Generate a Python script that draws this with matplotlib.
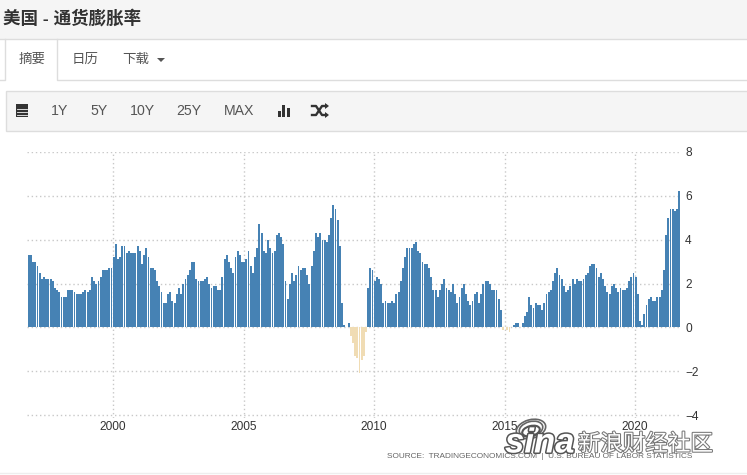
import matplotlib
matplotlib.use("Agg")
import matplotlib.pyplot as plt
import matplotlib.patheffects as pe
from matplotlib.patches import Rectangle, Ellipse

plt.rcParams['font.family'] = ['Liberation Sans', 'Noto Sans CJK SC', 'DejaVu Sans']

# monthly values, Nov 1996 to Oct 2021
start_year = 1996
start_month = 11
y1996 = [3.3, 3.3]
y1997 = [3.0, 3.0, 2.8, 2.5, 2.2, 2.3, 2.2, 2.2, 2.2, 2.1, 1.8, 1.7]
y1998 = [1.6, 1.4, 1.4, 1.4, 1.7, 1.7, 1.7, 1.6, 1.5, 1.5, 1.5, 1.6]
y1999 = [1.7, 1.6, 1.7, 2.3, 2.1, 2.0, 2.1, 2.3, 2.6, 2.6, 2.6, 2.7]
y2000 = [2.7, 3.2, 3.8, 3.1, 3.2, 3.7, 3.7, 3.4, 3.5, 3.4, 3.4, 3.4]
y2001 = [3.7, 3.5, 2.9, 3.3, 3.6, 3.2, 2.7, 2.7, 2.6, 2.1, 1.9, 1.6]
y2002 = [1.1, 1.1, 1.5, 1.6, 1.2, 1.1, 1.5, 1.8, 1.5, 2.0, 2.2, 2.4]
y2003 = [2.6, 3.0, 3.0, 2.2, 2.1, 2.1, 2.1, 2.2, 2.3, 2.0, 1.8, 1.9]
y2004 = [1.9, 1.7, 1.7, 2.3, 3.1, 3.3, 3.0, 2.7, 2.5, 3.2, 3.5, 3.3]
y2005 = [3.0, 3.0, 3.1, 3.5, 2.8, 2.5, 3.2, 3.6, 4.7, 4.3, 3.5, 3.4]
y2006 = [4.0, 3.6, 3.4, 3.5, 4.2, 4.3, 4.1, 3.8, 2.1, 1.3, 2.0, 2.5]
y2007 = [2.1, 2.4, 2.8, 2.6, 2.7, 2.7, 2.4, 2.0, 2.8, 3.5, 4.3, 4.1]
y2008 = [4.3, 4.0, 4.0, 3.9, 4.2, 5.0, 5.6, 5.4, 4.9, 3.7, 1.1, 0.1]
y2009 = [0.0, 0.2, -0.4, -0.7, -1.3, -1.4, -2.1, -1.5, -1.3, -0.2, 1.8, 2.7]
y2010 = [2.6, 2.1, 2.3, 2.2, 2.0, 1.1, 1.2, 1.1, 1.1, 1.2, 1.1, 1.5]
y2011 = [1.6, 2.1, 2.7, 3.2, 3.6, 3.6, 3.6, 3.8, 3.9, 3.5, 3.4, 3.0]
y2012 = [2.9, 2.9, 2.7, 2.3, 1.7, 1.7, 1.4, 1.7, 2.0, 2.2, 1.8, 1.7]
y2013 = [1.6, 2.0, 1.5, 1.1, 1.4, 1.8, 2.0, 1.5, 1.2, 1.0, 1.2, 1.5]
y2014 = [1.6, 1.1, 1.5, 2.0, 2.1, 2.1, 2.0, 1.7, 1.7, 1.7, 1.3, 0.8]
y2015 = [-0.1, 0.0, -0.1, -0.2, 0.0, 0.1, 0.2, 0.2, 0.0, 0.2, 0.5, 0.7]
y2016 = [1.4, 1.0, 0.9, 1.1, 1.0, 1.0, 0.8, 1.1, 1.5, 1.6, 1.7, 2.1]
y2017 = [2.5, 2.7, 2.4, 2.2, 1.9, 1.6, 1.7, 1.9, 2.2, 2.0, 2.2, 2.1]
y2018 = [2.1, 2.2, 2.4, 2.5, 2.8, 2.9, 2.9, 2.7, 2.3, 2.5, 2.2, 1.9]
y2019 = [1.6, 1.5, 1.9, 2.0, 1.8, 1.6, 1.8, 1.7, 1.7, 1.8, 2.1, 2.3]
y2020 = [2.5, 2.3, 1.5, 0.3, 0.1, 0.6, 1.0, 1.3, 1.4, 1.2, 1.2, 1.4]
y2021 = [1.4, 1.7, 2.6, 4.2, 5.0, 5.4, 5.4, 5.3, 5.4, 6.2]
values = (y1996 + y1997 + y1998 + y1999 + y2000 + y2001 + y2002 + y2003 + y2004
          + y2005 + y2006 + y2007 + y2008 + y2009 + y2010 + y2011 + y2012 + y2013
          + y2014 + y2015 + y2016 + y2017 + y2018 + y2019 + y2020 + y2021)

year_ticks = [2000, 2005, 2010, 2015, 2020]
value_ticks = [-4, -2, 0, 2, 4, 6, 8]
toolbar_labels = ["1Y", "5Y", "10Y", "25Y", "MAX"]
toolbar_x = [60, 99, 142, 189, 239]

W, H = 747, 475
fig = plt.figure(figsize=(W / 100, H / 100), dpi=100, facecolor="white")

# page furniture, drawn in pixel coordinates
bg = fig.add_axes([0, 0, 1, 1])
bg.set_xlim(0, W)
bg.set_ylim(H, 0)
bg.axis("off")
bg.add_patch(Rectangle((0, 0), W, 38.5, fc="#f5f5f5", ec="none"))
bg.plot([0, W], [38.5, 38.5], color="#dddddd", lw=1)
bg.text(3, 18, "美国 - 通货膨胀率", fontsize=12.6, fontweight="bold", color="#333333", va="center")

bg.plot([0, 4.5, 4.5], [79.5, 79.5, 39], color="#dddddd", lw=1)
bg.plot([56.5, 56.5, W], [39, 79.5, 79.5], color="#dddddd", lw=1)
bg.text(32, 60, "摘要", fontsize=9.7, color="#555555", ha="center", va="center")
bg.text(85, 60, "日历", fontsize=9.7, color="#555555", ha="center", va="center")
bg.text(136, 60, "下载", fontsize=9.7, color="#555555", ha="center", va="center")
bg.fill([157, 165, 161], [58, 58, 62], color="#555555", lw=0)

bg.add_patch(Rectangle((5.5, 90.5), W, 40.5, fc="#f5f5f5", ec="#dddddd", lw=1))
for name, px in zip(toolbar_labels, toolbar_x):
    bg.text(px, 111, name, fontsize=10.2, color="#555555", ha="center", va="center")

# calendar icon
bg.add_patch(Rectangle((16, 104), 12, 13, fc="#333333", ec="none"))
for gy in [108.5, 111.5, 114.5]:
    bg.plot([17, 27], [gy, gy], color="#f5f5f5", lw=0.6)
# bar icon
for bx, by in [(278, 111), (282, 105), (287, 108)]:
    bg.add_patch(Rectangle((bx, by), 3, 117 - by, fc="#333333", ec="none"))
# shuffle icon
bg.plot([312, 316, 322, 326], [106, 106, 115, 115], color="#333333", lw=1.7)
bg.plot([312, 316, 322, 326], [115, 115, 106, 106], color="#333333", lw=1.7)
bg.fill([325, 329, 325], [103, 106, 109], color="#333333", lw=0)
bg.fill([325, 329, 325], [112, 115, 118], color="#333333", lw=0)

bg.plot([0, W], [472.5, 472.5], color="#eeeeee", lw=1)

# chart axes: 0 sits at y=327, 22 px per unit, 26.1 px per year
left, right, top, bottom = 27, 681, 152, 418
ax = fig.add_axes([left / W, 1 - bottom / H, (right - left) / W, (bottom - top) / H])
ax.patch.set_alpha(0)
ax.set_xlim(2000 + (left - 113) / 26.1, 2000 + (right - 113) / 26.1)
ax.set_ylim(-(bottom - 327) / 22, 8)

# bars sit about 1.5 px left of the tick for their month
bar_shift = 1.5 / 26.1
xs = [start_year + (start_month - 1 + i) / 12 - bar_shift for i in range(len(values))]
colors = ["#4682b4" if v >= 0 else "#f0dcb4" for v in values]
ax.bar(xs, values, width=0.072, color=colors, linewidth=0, zorder=3, antialiased=False)

ax.set_xticks(year_ticks)
ax.set_yticks(value_ticks)
ax.yaxis.tick_right()
ax.grid(True, color="#c8c8c8", linestyle=(0, (1, 2)), linewidth=1, zorder=1)
ax.tick_params(length=0, labelsize=8.6, labelcolor="#333333", pad=3)
ax.tick_params(axis="x", pad=2)
for s in ax.spines.values():
    s.set_visible(False)

# source line and watermark on top
fg = fig.add_axes([0, 0, 1, 1])
fg.patch.set_alpha(0)
fg.set_xlim(0, W)
fg.set_ylim(H, 0)
fg.axis("off")
fg.text(387, 457, "SOURCE:  TRADINGECONOMICS.COM  |  U.S. BUREAU OF LABOR STATISTICS",
        fontsize=5.95, color="#666666", va="center")

halo = [pe.withStroke(linewidth=2.2, foreground="#555555")]
fg.text(505, 443, "sina", fontsize=25, fontweight="bold", fontstyle="italic", color="white",
        va="center", path_effects=halo)
fg.text(578, 445, "新浪财经社区", fontsize=16.2, color="white", va="center",
        path_effects=[pe.withStroke(linewidth=1.5, foreground="#777777")])
fg.add_patch(Ellipse((531, 431), 18, 10, angle=-15, fc="white", ec="#555555", lw=1.5))
fg.add_patch(Ellipse((531, 431), 6, 6, fc="#444444", ec="none"))
for r in [24, 30]:
    fg.add_patch(Ellipse((531, 429), r, r * 0.62, angle=-15, fc="none", ec="#666666", lw=1.2, zorder=0))

fig.savefig("out.png", dpi=100)
